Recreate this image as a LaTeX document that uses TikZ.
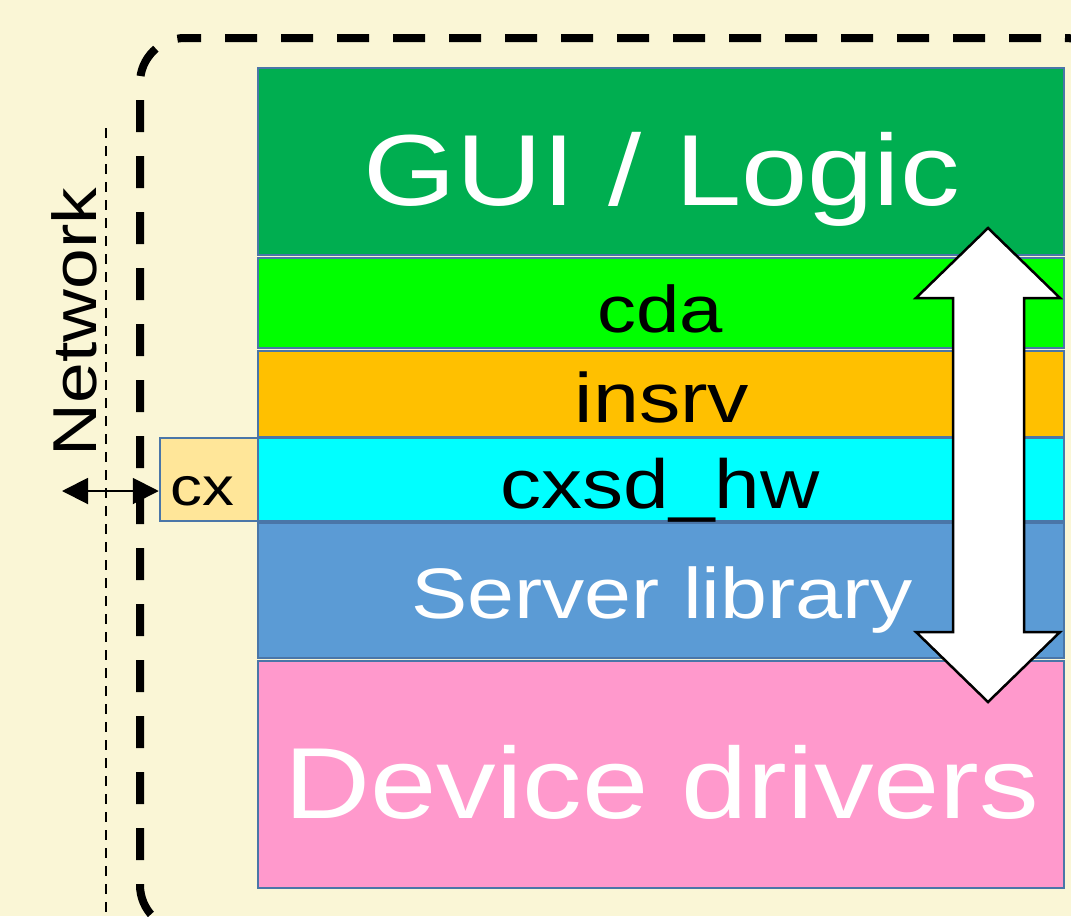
\documentclass[tikz,border=0pt]{standalone}
\usepackage{fontspec}
\usepackage{graphicx}
\setmainfont{Liberation Sans}
\usetikzlibrary{arrows.meta}
\definecolor{bg}{HTML}{FAF6D6}
\definecolor{edge}{HTML}{4A76A8}
\definecolor{guic}{HTML}{00AE50}
\definecolor{cdac}{HTML}{00FF00}
\definecolor{insc}{HTML}{FFC000}
\definecolor{cxsc}{HTML}{00FFFF}
\definecolor{srvc}{HTML}{5B9BD5}
\definecolor{devc}{HTML}{FF99CC}
\definecolor{cxc}{HTML}{FFE699}
\newcommand{\tx}[2]{\fontsize{#1}{#1}\selectfont\scalebox{1.18}[1]{#2}}
\tikzset{
  layer/.style={draw=edge, line width=2.5pt},
  lbl/.style={anchor=base, inner sep=0pt},
  bigdash/.style={line width=8pt, dash pattern=on 32pt off 24pt},
}
\begin{document}
\begin{tikzpicture}[x=1pt,y=-1pt]
\useasboundingbox (0,0) rectangle (1071,916);
\fill[bg] (0,0) rectangle (1071,916);
\clip (0,0) rectangle (1071,916);
% dashed rounded frame
\draw[bigdash, dash phase=31pt] (140,885) -- (140,83) arc (180:270:45);
\draw[bigdash, dash phase=16pt] (185,38) -- (1065,38) arc (270:360:45) -- (1110,940);
\draw[bigdash, dash phase=0pt] (140,885) arc (180:90:45) -- (1100,930);
% network line
\draw[line width=2pt, dash pattern=on 10pt off 8pt] (106,128) -- (106,920);
% layers
\node[layer, fill=guic, minimum width=806pt, minimum height=187pt, inner sep=0pt] (gui) at (661,161.5) {};
\node[layer, fill=cdac, minimum width=806pt, minimum height=90pt, inner sep=0pt] (cda) at (661,303) {};
\node[layer, fill=insc, minimum width=806pt, minimum height=86pt, inner sep=0pt] (insrv) at (661,394) {};
\node[layer, fill=cxsc, minimum width=806pt, minimum height=83pt, inner sep=0pt] (cxsd) at (661,479.5) {};
\node[layer, fill=srvc, minimum width=806pt, minimum height=135pt, inner sep=0pt] (srv) at (661,590.5) {};
\node[layer, fill=devc, minimum width=806pt, minimum height=227pt, inner sep=0pt] (dev) at (661,774.5) {};
\node[layer, fill=cxc, minimum width=98pt, minimum height=83pt, inner sep=0pt] (cx) at (209,479.5) {};
% labels
\node[lbl, text=white] at (662,205) {\tx{101}{GUI / Logic}};
\node[lbl] at (660,332) {\tx{66}{cda}};
\node[lbl] at (662,422) {\tx{70}{insrv}};
\node[lbl] at (660,508) {\tx{69.5}{cxsd\_hw}};
\node[lbl, text=white] at (662,618) {\tx{71.5}{Server library}};
\node[lbl, text=white] at (662,818) {\tx{101}{Device drivers}};
\node[lbl] at (202,505) {\tx{54}{cx}};
\node[lbl, rotate=90] at (96,322) {\tx{62}{Network}};
% network arrow
\coordinate (netL) at (62,491);
\draw[line width=2pt, {Triangle[length=26pt,width=26pt]}-{Triangle[length=26pt,width=26pt]}] (netL) -- (cx.west |- netL);
% double arrow
\draw[fill=white, draw=black, line width=2.5pt, line join=miter]
  (988,228) -- (1060,298) -- (1024,298) -- (1024,632) -- (1060,632) -- (988,702)
  -- (916,632) -- (953,632) -- (953,298) -- (916,298) -- cycle;
\end{tikzpicture}
\end{document}
